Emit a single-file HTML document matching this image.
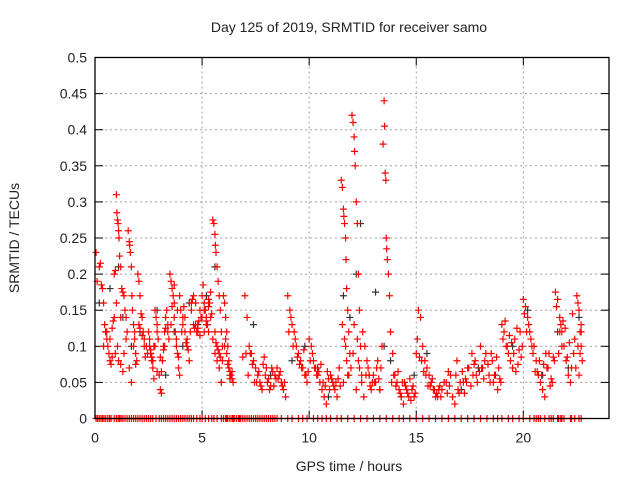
<!DOCTYPE html>
<html><head><meta charset="utf-8"><style>
body{margin:0;background:#fff}
svg text{font-family:"Liberation Sans",sans-serif;fill:#222}
</style></head><body>
<svg id="chart" width="640" height="480" viewBox="0 0 640 480" xmlns="http://www.w3.org/2000/svg">
<text x="349" y="32" font-size="14" text-anchor="middle">Day 125 of 2019, SRMTID for receiver samo</text>
<text x="19" y="238" font-size="14" text-anchor="middle" transform="rotate(-90 19 238)">SRMTID / TECUs</text>
<text x="349" y="471" font-size="14" text-anchor="middle">GPS time / hours</text>
<g id="grid"></g>
<g id="axes"></g>
<g id="blackPts"></g>
<g id="redPts"></g>
<rect x="95" y="57.5" width="514" height="361" fill="none" stroke="#000" stroke-width="1.3"/>
</svg>
<script>
const xTicks=[0,5,10,15,20];
const yTicks=[0,0.05,0.1,0.15,0.2,0.25,0.3,0.35,0.4,0.45,0.5];
const yTickLabels=["0","0.05","0.1","0.15","0.2","0.25","0.3","0.35","0.4","0.45","0.5"];
const redT=[0.05,0.1,0.2,0.25,0.3,0.35,0.4,0.45,0.5,0.55,0.6,0.65,0.7,0.75,0.8,0.85,0.9,0.95,
0.9,0.95,1.0,1.02,1.05,1.08,1.1,1.12,1.15,1.2,1.25,1.3,1.35,1.4,1.45,1.5,1.0,1.05,1.1,1.2,1.3,
1.55,1.6,1.62,1.65,1.7,1.72,1.75,1.8,1.85,1.9,1.95,1.6,1.7,1.8,1.9,
2.0,2.05,2.1,2.15,2.2,2.25,2.3,2.35,2.1,2.2,2.3,
2.5,2.55,2.6,2.65,2.7,2.75,2.8,2.85,2.9,2.95,2.6,2.7,2.8,2.9,
3.0,3.05,3.1,3.15,3.2,3.25,3.3,3.35,3.4,3.45,3.1,3.2,3.3,
3.5,3.55,3.6,3.65,3.7,3.75,3.8,3.85,3.9,3.95,3.6,3.7,3.8,3.9,
4.0,4.1,4.2,4.3,4.4,4.5,4.6,4.7,4.8,4.9,4.15,4.35,4.55,4.75,4.95,4.25,4.65,
5.0,5.05,5.1,5.15,5.2,5.25,5.3,5.35,5.4,5.45,5.1,5.2,5.3,
5.5,5.55,5.6,5.62,5.65,5.7,5.75,5.8,5.85,5.9,5.95,5.6,5.7,5.8,5.9,5.65,5.75,5.85,
6.0,6.05,6.1,6.15,6.2,6.25,6.3,6.35,6.4,6.45,6.1,6.2,6.3,
6.9,7.0,7.1,7.2,7.3,7.4,7.5,7.6,7.7,7.8,7.9,8.0,8.1,8.2,8.3,8.4,7.25,7.55,7.85,8.15,
8.5,8.6,8.7,8.8,8.9,8.55,8.75,
9.0,9.1,9.2,9.3,9.4,9.5,9.6,9.7,9.8,9.9,9.15,9.35,9.55,9.75,9.95,
10.0,10.1,10.2,10.3,10.4,10.5,10.6,10.7,10.8,10.9,10.15,10.45,10.75,
11.0,11.1,11.2,11.3,11.4,11.15,11.35,
11.5,11.55,11.6,11.62,11.65,11.7,11.72,11.75,11.8,11.85,11.9,11.95,11.6,11.7,11.8,
12.0,12.05,12.1,12.12,12.15,12.2,12.25,12.3,12.35,12.4,12.45,12.2,12.3,12.1,
12.5,12.6,12.7,12.8,12.9,12.55,12.75,12.95,
13.0,13.1,13.2,13.3,13.4,13.45,13.5,13.52,13.55,13.58,13.6,13.62,13.65,13.7,13.75,13.8,13.9,13.95,13.3,13.35,
14.0,14.1,14.2,14.3,14.4,14.5,14.6,14.7,14.8,14.9,14.15,14.45,14.75,
15.0,15.1,15.2,15.3,15.4,15.5,15.6,15.7,15.8,15.9,15.15,15.35,15.55,15.75,
16.0,16.2,16.4,16.6,16.8,17.0,17.2,17.4,17.6,17.8,16.1,16.5,16.9,17.3,17.7,
18.0,18.2,18.4,18.6,18.8,18.1,18.5,18.9,
19.0,19.1,19.2,19.3,19.4,19.5,19.6,19.7,19.8,19.9,19.15,19.45,19.75,19.35,19.65,
20.0,20.1,20.2,20.3,20.4,20.05,20.25,20.35,20.45,
20.5,20.6,20.7,20.8,20.9,21.0,21.1,21.2,21.3,21.4,20.65,20.95,21.25,
21.5,21.6,21.7,21.8,21.9,22.0,22.1,22.2,22.3,22.4,21.65,21.95,22.25,21.55,21.85,22.15,
22.5,22.55,22.6,22.65,22.7,22.75,22.6,22.7,22.65];
const redV=[0.23,0.19,0.21,0.215,0.185,0.18,0.16,0.13,0.12,0.11,0.1,0.09,0.08,0.075,0.125,0.135,0.14,0.09,
0.2,0.205,0.31,0.285,0.275,0.27,0.26,0.25,0.225,0.21,0.18,0.175,0.17,0.15,0.14,0.12,0.16,0.1,0.08,0.075,0.065,
0.26,0.245,0.24,0.23,0.21,0.17,0.15,0.13,0.11,0.09,0.08,0.07,0.05,0.1,0.075,
0.2,0.19,0.17,0.145,0.14,0.12,0.1,0.085,0.125,0.115,0.11,
0.12,0.1,0.09,0.08,0.07,0.055,0.15,0.14,0.13,0.11,0.095,0.08,0.1,0.12,
0.06,0.04,0.035,0.08,0.1,0.12,0.14,0.15,0.13,0.11,0.065,0.095,0.125,
0.2,0.19,0.18,0.17,0.16,0.12,0.11,0.09,0.07,0.06,0.155,0.185,0.1,0.085,
0.15,0.14,0.12,0.1,0.08,0.16,0.17,0.13,0.125,0.115,0.155,0.095,0.165,0.12,0.14,0.105,0.125,
0.17,0.185,0.16,0.15,0.14,0.13,0.12,0.16,0.175,0.145,0.12,0.135,0.165,
0.275,0.27,0.255,0.24,0.23,0.21,0.19,0.17,0.15,0.12,0.1,0.09,0.08,0.07,0.05,0.105,0.095,0.085,
0.17,0.16,0.14,0.12,0.1,0.08,0.065,0.06,0.055,0.05,0.11,0.075,0.055,
0.085,0.17,0.14,0.1,0.09,0.08,0.07,0.06,0.05,0.04,0.085,0.07,0.055,0.045,0.065,0.06,0.09,0.05,0.075,0.04,
0.07,0.06,0.05,0.04,0.03,0.055,0.045,
0.17,0.15,0.13,0.12,0.1,0.09,0.08,0.07,0.06,0.05,0.14,0.11,0.075,0.095,0.065,
0.11,0.1,0.08,0.07,0.06,0.05,0.04,0.03,0.02,0.055,0.09,0.065,0.045,
0.06,0.05,0.04,0.03,0.07,0.045,0.055,
0.33,0.32,0.29,0.28,0.27,0.25,0.22,0.18,0.15,0.12,0.09,0.07,0.05,0.1,0.06,
0.42,0.41,0.39,0.37,0.35,0.3,0.27,0.2,0.15,0.1,0.06,0.04,0.08,0.13,
0.12,0.1,0.08,0.06,0.04,0.03,0.07,0.05,
0.06,0.05,0.08,0.04,0.1,0.38,0.44,0.405,0.34,0.33,0.25,0.235,0.22,0.2,0.17,0.12,0.09,0.06,0.04,0.07,
0.06,0.05,0.04,0.03,0.02,0.045,0.035,0.055,0.04,0.03,0.065,0.05,0.025,
0.09,0.15,0.14,0.1,0.08,0.07,0.06,0.05,0.04,0.03,0.085,0.065,0.045,0.055,
0.03,0.04,0.05,0.06,0.02,0.035,0.05,0.07,0.09,0.06,0.045,0.065,0.08,0.055,0.075,
0.1,0.08,0.06,0.05,0.04,0.07,0.09,0.055,
0.13,0.12,0.1,0.09,0.08,0.07,0.11,0.125,0.095,0.085,0.135,0.105,0.075,0.115,0.065,
0.165,0.155,0.14,0.12,0.1,0.145,0.13,0.11,0.09,
0.1,0.08,0.06,0.05,0.04,0.03,0.07,0.09,0.055,0.085,0.065,0.075,0.045,
0.175,0.165,0.14,0.12,0.1,0.08,0.06,0.05,0.145,0.11,0.09,0.125,0.07,0.155,0.135,0.105,
0.17,0.16,0.15,0.12,0.1,0.08,0.06,0.13,0.09];
const redT2=[0.4,0.55,0.7,0.8,1.2,1.35,1.45,1.85,2.05,2.4,2.45,2.55,2.65,2.75,2.9,3.05,3.25,3.4,3.55,3.7,3.85,3.95,4.05,4.1,4.2,4.3,4.45,4.5,4.6,4.7,4.8,4.85,4.9,5.0,5.1,5.2,5.3,5.4,5.5,5.6,5.7,5.8,5.95,6.05,6.15,6.25,6.4,
7.05,7.15,7.35,7.45,7.65,7.75,7.95,8.05,8.25,8.35,8.45,8.65,8.85,9.05,9.25,9.45,9.65,9.85,10.05,10.25,10.35,10.55,10.65,10.85,10.95,11.05,11.25,11.45,
11.55,11.65,11.75,11.85,12.05,12.25,12.35,12.45,12.65,12.85,13.05,13.15,13.25,13.85,14.05,14.25,14.35,14.55,14.65,14.85,14.95,15.05,15.25,15.45,15.65,15.85,15.95,
16.05,16.15,16.3,16.45,16.55,16.7,16.85,16.95,17.05,17.15,17.25,17.35,17.45,17.55,17.65,17.75,17.85,17.95,18.05,18.15,18.25,18.35,18.45,18.55,18.65,18.75,18.85,18.95,
19.05,19.25,19.55,19.85,19.95,20.15,20.55,20.75,20.85,21.05,21.15,21.35,21.45,21.7,21.75,21.8,22.05,22.35,22.45,22.55,22.7];
const redV2=[0.1,0.12,0.11,0.085,0.14,0.09,0.11,0.12,0.13,0.1,0.09,0.11,0.085,0.1,0.065,0.085,0.1,0.12,0.13,0.14,0.15,0.17,0.12,0.13,0.14,0.11,0.12,0.15,0.13,0.16,0.12,0.135,0.15,0.14,0.15,0.13,0.155,0.14,0.11,0.12,0.1,0.09,0.08,0.1,0.09,0.07,0.065,
0.09,0.06,0.075,0.05,0.065,0.045,0.06,0.05,0.07,0.045,0.055,0.065,0.05,0.12,0.1,0.085,0.07,0.06,0.08,0.07,0.06,0.075,0.05,0.065,0.04,0.055,0.05,0.045,
0.13,0.11,0.08,0.06,0.09,0.11,0.07,0.05,0.06,0.045,0.05,0.07,0.055,0.05,0.045,0.035,0.05,0.04,0.03,0.045,0.035,0.11,0.08,0.06,0.045,0.04,0.035,
0.04,0.03,0.05,0.035,0.045,0.03,0.06,0.04,0.05,0.065,0.035,0.05,0.07,0.045,0.06,0.08,0.05,0.065,0.07,0.055,0.09,0.075,0.05,0.08,0.06,0.085,0.07,0.05,
0.11,0.1,0.09,0.12,0.1,0.12,0.065,0.08,0.06,0.09,0.07,0.05,0.08,0.12,0.13,0.1,0.085,0.09,0.07,0.1,0.12];
const blackT=[0.2,0.5,0.7,1.1,1.3,1.7,2.1,2.6,2.9,3.3,3.7,4.1,4.4,4.8,5.2,5.6,5.9,6.3,7.4,8.2,9.2,9.8,10.4,10.9,11.6,11.9,12.2,12.4,12.8,13.1,13.5,13.8,14.3,14.9,15.5,16.3,17.1,17.9,18.7,19.5,20.2,20.9,21.6,22.1,22.6];
const blackV=[0.16,0.12,0.18,0.21,0.14,0.1,0.12,0.09,0.15,0.06,0.12,0.1,0.16,0.13,0.17,0.21,0.05,0.06,0.13,0.06,0.08,0.1,0.07,0.03,0.17,0.14,0.2,0.27,0.06,0.175,0.1,0.08,0.03,0.06,0.09,0.05,0.04,0.07,0.06,0.1,0.15,0.06,0.12,0.07,0.14];
const zeroT=[0.05,0.12,0.2,0.28,0.35,0.42,0.5,0.6,0.68,0.75,0.9,1.0,1.08,1.15,1.22,1.3,1.4,1.5,1.6,1.7,1.8,1.9,2.0,2.1,2.2,2.3,2.4,2.5,2.6,2.7,2.85,3.0,3.1,3.2,3.3,3.4,3.5,3.6,3.7,3.8,3.9,4.0,4.1,4.2,4.3,4.4,4.5,4.6,4.75,4.9,5.0,5.15,5.3,5.45,5.55,5.7,5.9,6.0,6.1,6.15,6.2,6.3,6.4,6.45,6.5,6.6,6.7,6.75,6.8,6.9,7.0,7.1,7.2,7.3,7.4,7.5,7.6,7.7,7.8,7.9,8.0,8.1,8.2,8.3,8.4,8.5,8.7,9.0,9.2,9.5,9.7,9.9,10.2,10.4,10.6,10.8,11.0,11.3,11.5,11.8,12.1,12.4,12.7,13.0,13.3,13.6,13.9,14.2,14.4,14.7,15.0,15.3,15.6,15.9,16.2,16.5,16.8,17.1,17.4,17.7,18.0,18.3,18.6,18.8,19.0,19.3,19.5,19.8,20.0,20.3,20.5,20.6,20.7,20.8,21.0,21.2,21.3,21.4,21.6,21.65,21.75,21.8,21.9,22.2,22.25,22.4,22.6,22.7];

const NS="http://www.w3.org/2000/svg";
const X0=95,X1=609,Y0=418.5,Y1=57.5;
const xs=t=>X0+(t/24)*(X1-X0);
const ys=v=>Y0-(v/0.5)*(Y0-Y1);
function mk(tag,attrs,parent){const e=document.createElementNS(NS,tag);for(const k in attrs)e.setAttribute(k,attrs[k]);parent.appendChild(e);return e;}
const grid=document.getElementById('grid'),axes=document.getElementById('axes');
yTicks.forEach((v,i)=>{
  const y=ys(v);
  if(i>0&&i<yTicks.length-1){const g=mk('line',{x1:X0,x2:X1,y1:y,y2:y,stroke:'#a0a0a0','stroke-dasharray':'2,3','stroke-width':1},grid);
  
  }
  mk('line',{x1:X0,x2:X0+8,y1:y,y2:y,stroke:'#000'},axes);
  mk('line',{x1:X1,x2:X1-8,y1:y,y2:y,stroke:'#000'},axes);
  const t=mk('text',{x:X0-8,y:y+5,'font-size':14,'text-anchor':'end'},axes);
  t.textContent=yTickLabels[i];
  
  
});
xTicks.forEach(h=>{
  const x=xs(h);
  if(h>0){const g=mk('line',{x1:x,x2:x,y1:Y0,y2:Y1,stroke:'#a0a0a0','stroke-dasharray':'2,3','stroke-width':1},grid);
  
  }
  mk('line',{x1:x,x2:x,y1:Y0,y2:Y0-8,stroke:'#000'},axes);
  mk('line',{x1:x,x2:x,y1:Y1,y2:Y1+8,stroke:'#000'},axes);
  const t=mk('text',{x:x,y:Y0+24,'font-size':14,'text-anchor':'middle'},axes);
  t.textContent=String(h);
  
  
});
function plus(g,t,v,col){
  const x=xs(t),y=ys(v);
  const p=mk('path',{d:`M${x-3.5},${y}h7M${x},${y-3.5}v7`,stroke:col,'stroke-width':1.2,fill:'none'},g);
  
  
}
const bg=document.getElementById('blackPts'),rg=document.getElementById('redPts');
blackT.forEach((t,i)=>plus(bg,t,blackV[i],'#333'));
redT.forEach((t,i)=>plus(rg,t,redV[i],'#ff0000'));
redT2.forEach((t,i)=>plus(rg,t,redV2[i],'#ff0000'));
zeroT.forEach(t=>plus(rg,t,0,'#ff0000'));
</script>
</body></html>
